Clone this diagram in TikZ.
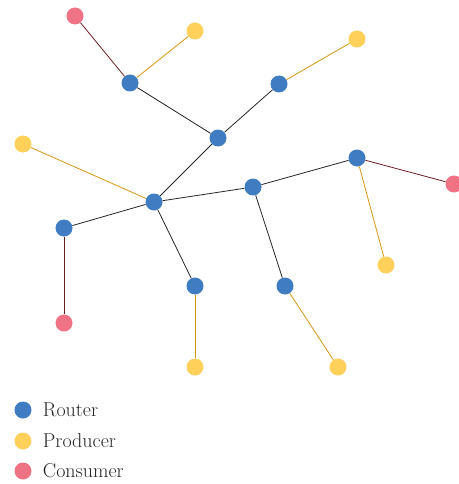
\documentclass[tikz,border=0pt]{standalone}
\usepackage{tikz}
\usetikzlibrary{positioning}
\definecolor{router}{HTML}{3F7CC2}
\definecolor{producer}{HTML}{FFD05A}
\definecolor{consumer}{HTML}{F07385}
\definecolor{plink}{HTML}{D4960F}
\definecolor{clink}{HTML}{6B1F22}
\tikzset{
  rnode/.style={circle, fill=router, minimum size=17pt, inner sep=0pt},
  pnode/.style={circle, fill=producer, minimum size=17pt, inner sep=0pt},
  cnode/.style={circle, fill=consumer, minimum size=17pt, inner sep=0pt},
  rlink/.style={draw=black!85, line width=0.8pt},
  plinkstyle/.style={draw=plink, line width=0.8pt},
  clinkstyle/.style={draw=clink, line width=0.8pt},
  legtext/.style={right, font=\fontsize{20}{22}\selectfont, text=black!85, inner sep=0pt}
}
\begin{document}
\begin{tikzpicture}[x=1pt, y=-1pt]
\useasboundingbox (0,0) rectangle (458,484);
\node[rnode] (R1) at (130,83) {};
\node[rnode] (R2) at (279,84) {};
\node[rnode] (R3) at (218,138) {};
\node[rnode] (R4) at (357,158) {};
\node[rnode] (R5) at (253,187) {};
\node[rnode] (R6) at (154,202) {};
\node[rnode] (R7) at (64,228) {};
\node[rnode] (R8) at (195,286) {};
\node[rnode] (R9) at (285,286) {};
\node[pnode] (P1) at (195,31) {};
\node[pnode] (P2) at (357,39) {};
\node[pnode] (P3) at (23,144) {};
\node[pnode] (P4) at (386,265) {};
\node[pnode] (P5) at (195,367) {};
\node[pnode] (P6) at (338,367) {};
\node[cnode] (C1) at (75,16) {};
\node[cnode] (C2) at (454,184) {};
\node[cnode] (C3) at (64,323) {};
\draw[clinkstyle] (C1) -- (R1);
\draw[plinkstyle] (R1) -- (P1);
\draw[rlink] (R1) -- (R3);
\draw[plinkstyle] (R2) -- (P2);
\draw[rlink] (R2) -- (R3);
\draw[rlink] (R3) -- (R6);
\draw[plinkstyle] (P3) -- (R6);
\draw[rlink] (R6) -- (R5);
\draw[rlink] (R5) -- (R4);
\draw[clinkstyle] (R4) -- (C2);
\draw[plinkstyle] (R4) -- (P4);
\draw[rlink] (R6) -- (R7);
\draw[clinkstyle] (R7) -- (C3);
\draw[rlink] (R6) -- (R8);
\draw[plinkstyle] (R8) -- (P5);
\draw[rlink] (R5) -- (R9);
\draw[plinkstyle] (R9) -- (P6);
% legend
\node[rnode] (LR) at (23,410) {};
\node[pnode] (LP) at (23,441) {};
\node[cnode] (LC) at (23,471) {};
\node[legtext] at ([xshift=11pt]LR.east) {Router};
\node[legtext] at ([xshift=11pt]LP.east) {Producer};
\node[legtext] at ([xshift=11pt]LC.east) {Consumer};
\end{tikzpicture}
\end{document}
